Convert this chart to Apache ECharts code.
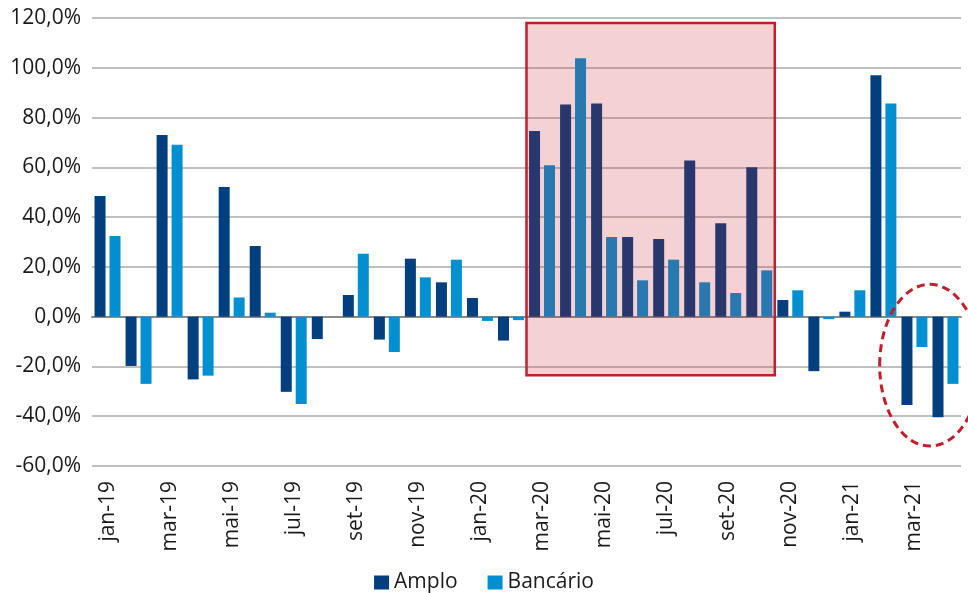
<!DOCTYPE html>
<html>
<head>
<meta charset="utf-8">
<script src="https://cdn.jsdelivr.net/npm/echarts@6/dist/echarts.min.js"></script>
<style>
  html, body { margin: 0; padding: 0; background: #fff; }
  #main { width: 968px; height: 593px; }
</style>
</head>
<body>
<div id="main"></div>
<script>
var months = ['jan-19', 'fev-19', 'mar-19', 'abr-19', 'mai-19', 'jun-19', 'jul-19', 'ago-19',
  'set-19', 'out-19', 'nov-19', 'dez-19', 'jan-20', 'fev-20', 'mar-20', 'abr-20', 'mai-20',
  'jun-20', 'jul-20', 'ago-20', 'set-20', 'out-20', 'nov-20', 'dez-20', 'jan-21', 'fev-21',
  'mar-21', 'abr-21'];

var amplo = [48.5, -19.8, 73.0, -25.2, 52.1, 28.4, -30.2, -9.0,
  8.7, -9.2, 23.3, 13.8, 7.5, -9.6, 74.6, 85.2, 85.6,
  32.0, 31.2, 62.7, 37.5, 60.0, 6.7, -21.9, 2.0, 97.0,
  -35.5, -40.4];

var bancario = [32.4, -27.0, 69.1, -23.7, 7.7, 1.6, -35.1, 0,
  25.3, -14.2, 15.8, 22.9, -1.7, -1.4, 60.8, 103.8, 32.0,
  14.6, 22.9, 13.8, 9.5, 18.6, 10.6, -1.0, 10.6, 85.6,
  -12.2, -27.0];

// highlighted period and the circled months
var boxFrom = 'mar-20', boxTo = 'out-20';
var boxTop = 118, boxBottom = -23.5;
var circleFrom = 'mar-21', circleTo = 'abr-21';

var font = '"Open Sans", "Noto Sans", sans-serif';
var txt = '#1a1a1a';

var chartDom = document.getElementById('main');
var myChart = echarts.init(chartDom);

var option = {
  animation: false,
  grid: { left: 92, right: 7, top: 18, bottom: 127 },
  legend: {
    data: ['Amplo', 'Bancário'],
    top: 567,
    left: 'center',
    icon: 'rect',
    itemWidth: 15,
    itemHeight: 14,
    itemGap: 30,
    textStyle: { fontFamily: font, fontSize: 21, color: txt }
  },
  xAxis: [
    {
      type: 'category',
      data: months,
      position: 'bottom',
      axisLine: { show: false, onZero: false },
      axisTick: { show: false },
      axisLabel: {
        interval: 1,
        rotate: 90,
        margin: 15,
        fontFamily: font,
        fontSize: 21,
        color: txt
      }
    },
    {
      type: 'category',
      data: months,
      axisLine: { onZero: true, lineStyle: { color: '#8a8a8a', width: 2 } },
      axisTick: { interval: 1, inside: true, length: 7, lineStyle: { color: '#8a8a8a', width: 2 } },
      axisLabel: { show: false }
    }
  ],
  yAxis: {
    type: 'value',
    min: -60,
    max: 120,
    interval: 20,
    axisLine: { show: false },
    axisTick: { show: false },
    splitLine: { lineStyle: { color: '#c0c0c4', width: 2 } },
    axisLabel: {
      margin: 11,
      fontFamily: font,
      fontSize: 21,
      color: txt,
      formatter: function (v) { return v.toFixed(1).replace('.', ',') + '%'; }
    }
  },
  series: [
    {
      name: 'Amplo',
      type: 'bar',
      data: amplo,
      barWidth: 11,
      barGap: '36%',
      itemStyle: { color: '#023f7e' }
    },
    {
      name: 'Bancário',
      type: 'bar',
      data: bancario,
      barWidth: 11,
      itemStyle: { color: '#0090d1' }
    }
  ]
};

myChart.setOption(option);

// annotations placed through the chart's own scales
var c0 = myChart.convertToPixel({ xAxisIndex: 0 }, months[0]);
var c1 = myChart.convertToPixel({ xAxisIndex: 0 }, months[1]);
var band = c1 - c0;

var bx0 = myChart.convertToPixel({ xAxisIndex: 0 }, boxFrom) - band / 2;
var bx1 = myChart.convertToPixel({ xAxisIndex: 0 }, boxTo) + band / 2;
var by0 = myChart.convertToPixel({ yAxisIndex: 0 }, boxTop);
var by1 = myChart.convertToPixel({ yAxisIndex: 0 }, boxBottom);

var ex = (myChart.convertToPixel({ xAxisIndex: 0 }, circleFrom) +
  myChart.convertToPixel({ xAxisIndex: 0 }, circleTo)) / 2;
var eyTop = myChart.convertToPixel({ yAxisIndex: 0 }, 13);
var eyBot = myChart.convertToPixel({ yAxisIndex: 0 }, -52);

myChart.setOption({
  graphic: [
    {
      type: 'rect',
      z: 100,
      silent: true,
      shape: { x: bx0, y: by0, width: bx1 - bx0, height: by1 - by0 },
      style: { fill: 'rgba(200,30,40,0.2)', stroke: '#c21f2b', lineWidth: 2.5 }
    },
    {
      type: 'ellipse',
      z: 100,
      silent: true,
      shape: { cx: ex, cy: (eyTop + eyBot) / 2, rx: band * 1.62, ry: (eyBot - eyTop) / 2 },
      style: { fill: 'none', stroke: '#c21f2b', lineWidth: 3, lineDash: [8, 5] }
    }
  ]
});
</script>
</body>
</html>
